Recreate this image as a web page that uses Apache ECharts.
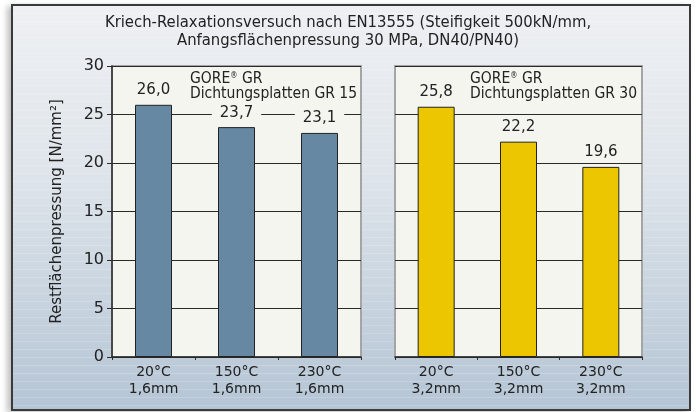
<!DOCTYPE html>
<html>
<head>
<meta charset="utf-8">
<script src="https://cdn.jsdelivr.net/npm/echarts@6/dist/echarts.min.js"></script>
<style>
  html, body { margin: 0; padding: 0; background: #fff; }
  .wrap { position: relative; width: 696px; height: 412px; }
  .frame {
    position: absolute; left: 11px; top: 4px; width: 676px; height: 403px;
    border: 2px solid #3a3a3a;
    background:
      repeating-linear-gradient(180deg, rgba(255,255,255,0) 0px, rgba(255,255,255,0) 7px, rgba(255,255,255,0.35) 8px),
      linear-gradient(180deg, #eef0f3 0%, #dfe5eb 40%, #b5c5d5 100%);
    box-shadow: -4px 2px 6px rgba(0,0,0,0.25);
  }
  #chart { position: absolute; left: 0; top: 0; width: 696px; height: 412px; }
</style>
</head>
<body>
<div class="wrap">
  <div class="frame"></div>
  <div id="chart"></div>
</div>
<script>
// Daten
const catsGR15 = ["20°C\n1,6mm", "150°C\n1,6mm", "230°C\n1,6mm"];
const catsGR30 = ["20°C\n3,2mm", "150°C\n3,2mm", "230°C\n3,2mm"];
const valsGR15 = [26.0, 23.7, 23.1];
const valsGR30 = [25.8, 22.2, 19.6];
const yTicks = [0, 5, 10, 15, 20, 25, 30];

const FONT = '"Liberation Sans Narrow", "DejaVu Sans Condensed", "Noto Sans", sans-serif';
const NUM_FONT = '"DejaVu Sans", Verdana, sans-serif';
const panelBg = "#f5f5ef";

const chart = echarts.init(document.getElementById("chart"));

function fmt(p) {
  return p.value.toFixed(1).replace(".", ",");
}

const yBase = {
  type: "value",
  min: yTicks[0],
  max: yTicks[yTicks.length - 1],
  interval: 5,
  splitLine: { show: true, lineStyle: { color: "#2a2a2a", width: 1 } },
};

const xBase = {
  type: "category",
  axisLine: { show: true, lineStyle: { color: "#2a2a2a", width: 1.5 } },
  axisTick: { show: true, length: 3, lineStyle: { color: "#2a2a2a" } },
  axisLabel: { color: "#222", fontFamily: NUM_FONT, fontSize: 14, lineHeight: 17, margin: 7 },
};

const barBase = {
  type: "bar",
  barWidth: 37,
  label: {
    show: true,
    position: "top",
    distance: 6,
    formatter: fmt,
    color: "#222",
    fontFamily: NUM_FONT,
    fontSize: 15,
    backgroundColor: panelBg,
    padding: [1, 8],
  },
  itemStyle: { borderColor: "#222", borderWidth: 1 },
};

function gore(n) {
  return {
    type: "text",
    left: n === 15 ? 190 : 470,
    top: 71,
    style: {
      text: "{a|GORE}{r|®}{a| GR}\n{a|Dichtungsplatten GR " + n + "}",
      rich: {
        a: { fontFamily: FONT, fontSize: 15.5, fill: "#222", lineHeight: 15 },
        r: { fontFamily: FONT, fontSize: 8, fill: "#222", verticalAlign: "top", lineHeight: 15 },
      },
    },
  };
}

const option = {
  animation: false,
  title: {
    text: "Kriech-Relaxationsversuch nach EN13555 (Steifigkeit 500kN/mm,\nAnfangsflächenpressung 30 MPa, DN40/PN40)",
    left: "center",
    top: 8,
    textStyle: { fontFamily: FONT, fontSize: 16.5, fontWeight: "normal", color: "#222", lineHeight: 18.5 },
  },
  grid: [
    { left: 112, top: 66, width: 249, height: 291, show: true, backgroundColor: panelBg, borderColor: "#a5a5a5", borderWidth: 2 },
    { left: 395, top: 66, width: 247, height: 291, show: true, backgroundColor: panelBg, borderColor: "#a5a5a5", borderWidth: 2 },
  ],
  xAxis: [
    Object.assign({}, xBase, { gridIndex: 0, data: catsGR15 }),
    Object.assign({}, xBase, { gridIndex: 1, data: catsGR30 }),
  ],
  yAxis: [
    Object.assign({}, yBase, {
      gridIndex: 0,
      name: "Restflächenpressung [N/mm²]",
      nameLocation: "middle",
      nameGap: 47,
      nameTextStyle: { fontFamily: NUM_FONT, fontSize: 15, color: "#222" },
      axisLine: { show: true, lineStyle: { color: "#2a2a2a", width: 1.5 } },
      axisTick: { show: true, length: 5, lineStyle: { color: "#2a2a2a" } },
      axisLabel: { color: "#222", fontFamily: NUM_FONT, fontSize: 16, margin: 8 },
    }),
    Object.assign({}, yBase, {
      gridIndex: 1,
      axisLine: { show: false },
      axisTick: { show: false },
      axisLabel: { show: false },
    }),
  ],
  series: [
    Object.assign({}, barBase, {
      name: "GR 15", xAxisIndex: 0, yAxisIndex: 0, data: valsGR15,
      itemStyle: Object.assign({}, barBase.itemStyle, { color: "#6788a2" }),
    }),
    Object.assign({}, barBase, {
      name: "GR 30", xAxisIndex: 1, yAxisIndex: 1, data: valsGR30,
      itemStyle: Object.assign({}, barBase.itemStyle, { color: "#ecc700" }),
    }),
  ],
  graphic: [gore(15), gore(30)],
};

chart.setOption(option);
</script>
</body>
</html>
